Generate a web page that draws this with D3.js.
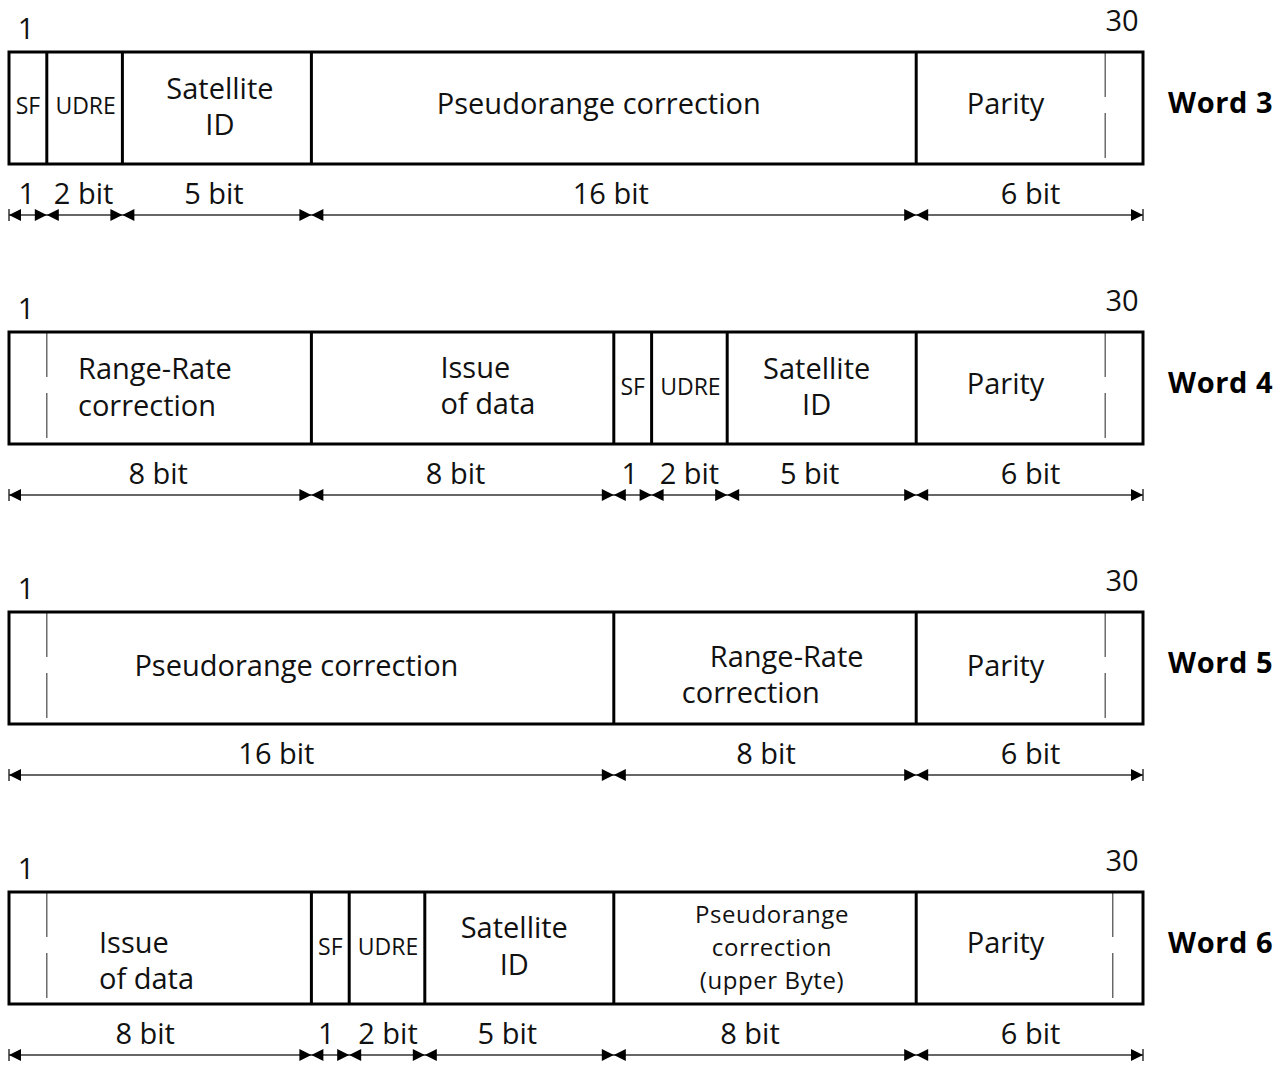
<!DOCTYPE html>
<html>
<head>
<meta charset="utf-8">
<script src="https://cdn.jsdelivr.net/npm/d3@7"></script>
<style>
  html, body { margin: 0; padding: 0; background: #fff; }
  svg { display: block; }
  text { font-family: "Open Sans", "Noto Sans", sans-serif; fill: #111; }
</style>
</head>
<body>
<svg id="chart" width="1288" height="1065"></svg>
<script>
// ---------------- DATA ----------------
const words = ["Word 3", "Word 4", "Word 5", "Word 6"];
const totalBits = 30;
const bitStartLabel = "1";
const bitEndLabel = "30";

const fieldBits = [
  [1, 2, 5, 16, 6],
  [8, 8, 1, 2, 5, 6],
  [16, 8, 6],
  [8, 1, 2, 5, 8, 6]
];

const fieldLabels = [
  [["SF"], ["UDRE"], ["Satellite", "ID"], ["Pseudorange correction"], ["Parity"]],
  [["Range-Rate", "correction"], ["Issue", "of data"], ["SF"], ["UDRE"], ["Satellite", "ID"], ["Parity"]],
  [["Pseudorange correction"], ["Range-Rate", "correction"], ["Parity"]],
  [["Issue", "of data"], ["SF"], ["UDRE"], ["Satellite", "ID"], ["Pseudorange", "correction", "(upper Byte)"], ["Parity"]]
];

const bitLabels = [
  ["1", "2 bit", "5 bit", "16 bit", "6 bit"],
  ["8 bit", "8 bit", "1", "2 bit", "5 bit", "6 bit"],
  ["16 bit", "8 bit", "6 bit"],
  ["8 bit", "1", "2 bit", "5 bit", "8 bit", "6 bit"]
];

// bit positions of the thin broken marker lines inside each word
const markerBits = [
  [29],
  [1, 29],
  [1, 29],
  [1, 29.2]
];

// ---------------- LAYOUT (not data) ----------------
const boxHeight = 112;
const S = 23, L = 29, M = 24;
// per field: font size, anchor, x offset(s) (from centre for middle, from left for start), baselines from box top
const labelLayout = [
  [
    {size: S, anchor: "middle", dx: [0], dy: [62]},
    {size: S, anchor: "middle", dx: [1], dy: [62]},
    {size: L, anchor: "middle", dx: [3, 3], dy: [47, 83]},
    {size: L, anchor: "middle", dx: [-15], dy: [62]},
    {size: L, anchor: "middle", dx: [-24], dy: [62]}
  ],
  [
    {size: L, anchor: "start", dx: [69, 69], dy: [47, 84]},
    {size: L, anchor: "start", dx: [129, 129], dy: [46, 82]},
    {size: S, anchor: "middle", dx: [0], dy: [63]},
    {size: S, anchor: "middle", dx: [1], dy: [63]},
    {size: L, anchor: "middle", dx: [-5, -5], dy: [47, 83]},
    {size: L, anchor: "middle", dx: [-24], dy: [62]}
  ],
  [
    {size: L, anchor: "middle", dx: [-15], dy: [64]},
    {size: L, anchor: "start", dx: [96, 68], dy: [55, 91]},
    {size: L, anchor: "middle", dx: [-24], dy: [64]}
  ],
  [
    {size: L, anchor: "start", dx: [90, 90], dy: [61, 97]},
    {size: S, anchor: "middle", dx: [0], dy: [63]},
    {size: S, anchor: "middle", dx: [1], dy: [63]},
    {size: L, anchor: "middle", dx: [-5, -5], dy: [46, 83]},
    {size: M, anchor: "middle", dx: [7, 7, 7], dy: [31, 64, 97], spacing: 0.6},
    {size: L, anchor: "middle", dx: [-24], dy: [61]}
  ]
];
const bitLabelDx = [
  [-1, -1, -3, -3, 1],
  [-2, -7, -3, 0, -12, 1],
  [-35, 1, 1],
  [-15, -4, 1, -12, -15, 1]
];

// ---------------- SCALES ----------------
const x = d3.scaleLinear().domain([0, totalBits]).range([9, 1143]);
const rowY = d3.scaleLinear().domain([0, words.length - 1]).range([52, 892]);

const svg = d3.select("#chart");

words.forEach((word, wi) => {
  const top = rowY(wi);
  const bottom = top + boxHeight;
  const g = svg.append("g");
  const bits = fieldBits[wi];
  const starts = d3.cumsum([0].concat(bits)).slice(0, bits.length);
  const segs = bits.map((b, i) => ({start: starts[i], end: starts[i] + b, i}));

  // Start / end bit numbers
  g.append("text").attr("x", x(0) + 17).attr("y", top - 13)
    .attr("text-anchor", "middle").style("font-size", "29px").text(bitStartLabel);
  g.append("text").attr("x", x(totalBits) - 21).attr("y", top - 21)
    .attr("text-anchor", "middle").style("font-size", "29px").text(bitEndLabel);

  // Broken marker lines
  markerBits[wi].forEach(mb => {
    [[top + 1, top + 45], [top + 61, bottom - 6]].forEach(([y1, y2]) => {
      g.append("line").attr("x1", x(mb)).attr("x2", x(mb)).attr("y1", y1).attr("y2", y2)
        .attr("stroke", "#555").attr("stroke-width", 1.3);
    });
  });

  // Outer box
  g.append("rect").attr("x", x(0)).attr("y", top)
    .attr("width", x(totalBits) - x(0)).attr("height", boxHeight)
    .attr("fill", "none").attr("stroke", "#000").attr("stroke-width", 3);

  // Dividers
  g.selectAll("line.div").data(segs.slice(1)).enter().append("line")
    .attr("class", "div")
    .attr("x1", d => x(d.start)).attr("x2", d => x(d.start))
    .attr("y1", top).attr("y2", bottom)
    .attr("stroke", "#000").attr("stroke-width", 3);

  // Field labels (multi-line labels as one text element with tspans)
  segs.forEach(d => {
    const lay = labelLayout[wi][d.i];
    const lines = fieldLabels[wi][d.i];
    const cx = (x(d.start) + x(d.end)) / 2;
    const t = g.append("text").attr("text-anchor", lay.anchor).style("font-size", lay.size + "px");
    if (lay.spacing) t.style("letter-spacing", lay.spacing + "px");
    lines.forEach((ln, li) => {
      const xx = lay.anchor === "start" ? x(d.start) + lay.dx[li] : cx + lay.dx[li];
      t.append("tspan").attr("x", xx).attr("y", top + lay.dy[li]).text(ln);
    });
  });

  // Word label
  g.append("text").attr("x", 1168).attr("y", top + 61)
    .style("font-size", "29px").style("font-weight", "bold").style("letter-spacing", "0.6px")
    .style("fill", "#000").text(word);

  // Bit-width labels
  segs.forEach(d => {
    const cx = (x(d.start) + x(d.end)) / 2 + bitLabelDx[wi][d.i];
    g.append("text").attr("x", cx).attr("y", bottom + 40)
      .attr("text-anchor", "middle").style("font-size", "29px").text(bitLabels[wi][d.i]);
  });

  // Dimension line with arrows
  const ay = bottom + 51;
  g.append("line").attr("x1", x(0)).attr("x2", x(totalBits)).attr("y1", ay).attr("y2", ay)
    .attr("stroke", "#333").attr("stroke-width", 1.5);
  [x(0), x(totalBits)].forEach(xx => {
    g.append("line").attr("x1", xx).attr("x2", xx).attr("y1", ay - 6).attr("y2", ay + 6)
      .attr("stroke", "#333").attr("stroke-width", 1.5);
  });
  const aw = 12, ah = 6;
  segs.forEach(d => {
    const a = x(d.start), b = x(d.end);
    g.append("path").attr("d", `M${a},${ay} L${a + aw},${ay - ah} L${a + aw},${ay + ah} Z`).attr("fill", "#000");
    g.append("path").attr("d", `M${b},${ay} L${b - aw},${ay - ah} L${b - aw},${ay + ah} Z`).attr("fill", "#000");
  });
});
</script>
</body>
</html>
